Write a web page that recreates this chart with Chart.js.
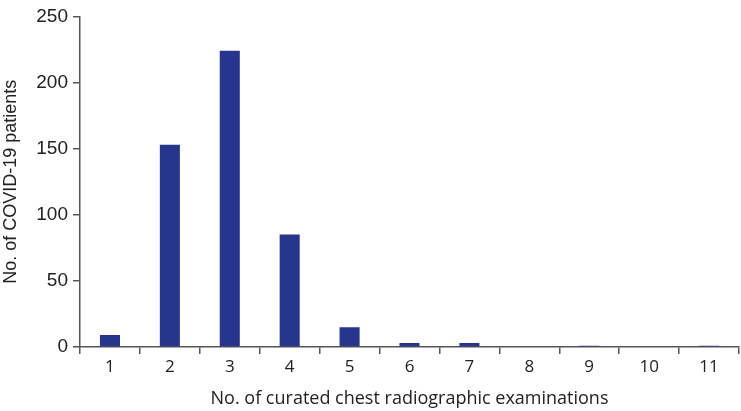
<!DOCTYPE html>
<html>
<head>
<meta charset="utf-8">
<script src="https://cdn.jsdelivr.net/npm/chart.js@4/dist/chart.umd.min.js"></script>
<style>
html,body{margin:0;padding:0;background:#fff;}
#wrap{width:741px;height:411px;}
</style>
</head>
<body>
<div id="wrap"><canvas id="c" width="741" height="411"></canvas></div>
<script>
const categories = ['1','2','3','4','5','6','7','8','9','10','11'];
const patients = [9, 153, 224, 85, 15, 3, 3, 0, 1, 0, 1];
const yTickValues = [0, 50, 100, 150, 200, 250];
const xTitle = 'No. of curated chest radiographic examinations';
const yTitle = 'No. of COVID-19 patients';

const axisColor = '#555555';
const barColor = '#28358c';
const textColor = '#222222';

new Chart(document.getElementById('c'), {
  type: 'bar',
  data: {
    labels: categories,
    datasets: [{
      data: patients,
      backgroundColor: barColor,
      borderWidth: 0,
      categoryPercentage: 1,
      barPercentage: 0.335
    }]
  },
  options: {
    responsive: false,
    animation: false,
    devicePixelRatio: 1,
    layout: { padding: { top: 9, right: 2, left: 0, bottom: 0 } },
    plugins: { legend: { display: false }, tooltip: { enabled: false } },
    scales: {
      x: {
        grid: { display: true, drawOnChartArea: false, drawTicks: true, tickLength: 7, color: axisColor, lineWidth: 1.5, offset: true },
        border: { display: true, color: axisColor, width: 1.5 },
        ticks: { color: textColor, font: { family: 'Open Sans', size: 17 }, padding: 3, maxRotation: 0 },
        title: { display: true, text: xTitle, color: textColor, font: { family: 'Open Sans', size: 18 }, padding: { top: 0, bottom: 1 } },
        afterFit: (s) => { s.height = 64; }
      },
      y: {
        min: 0, max: 250,
        afterBuildTicks: (s) => { s.ticks = yTickValues.map(v => ({ value: v })); },
        grid: { display: true, drawOnChartArea: false, drawTicks: true, tickLength: 7, color: axisColor, lineWidth: 1.5 },
        border: { display: true, color: axisColor, width: 1.5 },
        ticks: { color: textColor, font: { family: 'Liberation Sans', size: 19 }, padding: 5 },
        title: { display: true, text: yTitle, color: textColor, font: { family: 'Liberation Sans', size: 18 }, padding: { top: 0, bottom: 0 } },
        afterFit: (s) => { s.width = 80; }
      }
    }
  }
});
</script>
</body>
</html>
